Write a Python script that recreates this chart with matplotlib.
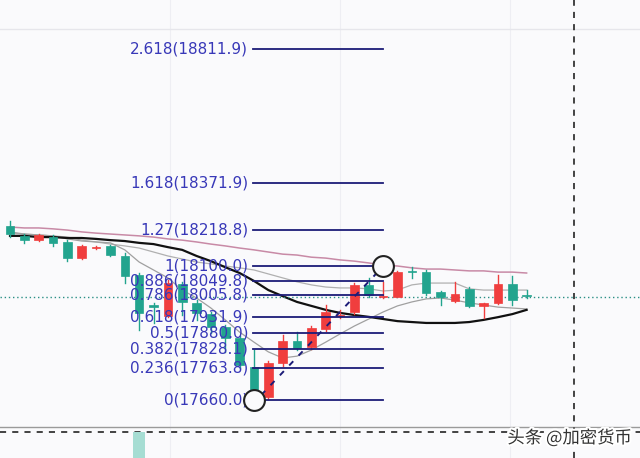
import matplotlib
matplotlib.use("Agg")
import matplotlib.pyplot as plt
import matplotlib.patheffects as pe
from matplotlib.patches import Rectangle

# ---------------- data ----------------
opens  = [18231, 18199, 18185, 18195, 18179, 18126, 18160, 18166, 18133, 18071,
          17972, 17936, 18041, 17979, 17942, 17900, 17864, 17768, 17670, 17782,
          17854, 17834, 17893, 17936, 17949, 18038, 17998, 17998, 18084, 18080,
          18015, 17985, 18025, 17969, 17979, 18041, 18005]
highs  = [18248, 18205, 18205, 18202, 18185, 18169, 18166, 18169, 18143, 18077,
          17979, 18054, 18048, 17988, 17949, 17906, 17870, 17824, 17788, 17874,
          17883, 17903, 17972, 17956, 18044, 18061, 18047, 18084, 18097, 18087,
          18018, 18048, 18031, 17980, 18071, 18067, 18021]
lows   = [18195, 18176, 18182, 18166, 18117, 18123, 18156, 18133, 18044, 17890,
          17913, 17933, 17939, 17923, 17880, 17818, 17765, 17660, 17663, 17772,
          17824, 17828, 17887, 17929, 17942, 17998, 17995, 17998, 18061, 18005,
          17972, 17982, 17965, 17929, 17975, 17972, 17995]
closes = [18205, 18185, 18202, 18176, 18126, 18166, 18163, 18136, 18067, 17946,
          17965, 18044, 17982, 17946, 17900, 17864, 17775, 17693, 17782, 17854,
          17831, 17896, 17949, 17938, 18038, 18005, 18002, 18080, 18080, 18011,
          17998, 18008, 17969, 17979, 18041, 17988, 18002]

ma_pink  = [18228, 18225, 18225, 18222, 18218, 18212, 18208, 18205, 18202, 18199,
            18195, 18189, 18185, 18179, 18172, 18166, 18159, 18153, 18146, 18139,
            18136, 18129, 18126, 18120, 18116, 18110, 18103, 18100, 18094, 18090,
            18090, 18087, 18084, 18084, 18080, 18080, 18077]
ma_black = [18199, 18199, 18195, 18195, 18192, 18192, 18189, 18185, 18182, 18176,
            18172, 18162, 18153, 18133, 18116, 18096, 18077, 18051, 18021, 18001,
            17982, 17969, 17956, 17946, 17939, 17933, 17926, 17919, 17916, 17913,
            17913, 17913, 17916, 17923, 17932, 17942, 17956]
ma_gray1 = [18208, 18205, 18202, 18199, 18195, 18185, 18179, 18172, 18166, 18159,
            18146, 18133, 18123, 18113, 18107, 18100, 18094, 18087, 18074, 18061,
            18048, 18038, 18031, 18028, 18028, 18025, 18018, 18021, 18038, 18044,
            18044, 18044, 18025, 18021, 18021, 18021, 18021]
ma_gray2 = [18212, 18205, 18202, 18199, 18189, 18182, 18179, 18176, 18153, 18113,
            18087, 18061, 18021, 17995, 17962, 17923, 17883, 17850, 17818, 17798,
            17804, 17824, 17850, 17877, 17903, 17926, 17949, 17969, 17982, 17992,
            17995, 17988, 17979, 17972, 17965, 17962, 17959]

fib_labels = ["0(17660.0)", "0.236(17763.8)", "0.382(17828.1)", "0.5(17880.0)",
              "0.618(17931.9)", "0.786(18005.8)", "0.886(18049.8)", "1(18100.0)",
              "1.27(18218.8)", "1.618(18371.9)", "2.618(18811.9)"]
fib_prices = [17660.0, 17763.8, 17828.1, 17880.0, 17931.9, 18005.8, 18049.8,
              18100.0, 18218.8, 18371.9, 18811.9]
fib_start, fib_end = 17, 26          # anchor candles (low, high)

trend_x = [17.5, 25.5]
trend_y = [17676, 18074]

last_price = 17998.3
cross_x = 39.3

vol_idx = [9]
vol_val = [26]

# ---------------- style ----------------
BG = "#fafafc"
UP = "#f03e3e"
DN = "#22a48e"
FIBC = "#1c1c78"
LABC = "#3838b8"

fig = plt.figure(figsize=(6.4, 4.58), dpi=100, facecolor=BG)
ax = fig.add_axes([0, 0, 1, 1])
ax.set_facecolor(BG)
ax.set_xlim(-0.697, 43.9)
ax.set_ylim(17469.5, 18973.6)
ax.axis("off")

# faint grid
for gx in [11.15, 23.0, 34.85]:
    ax.axvline(gx, color="#eeeef3", lw=0.8, zorder=0)
ax.axhline(18878, color="#e6e6eb", lw=1.0, zorder=0)

# moving averages
xs = list(range(len(closes)))
ax.plot(xs, ma_pink, color="#c88aa6", lw=1.1, zorder=2)
ax.plot(xs, ma_gray1, color="#b0b0b0", lw=0.9, zorder=2)
ax.plot(xs, ma_gray2, color="#a0a0a0", lw=0.9, zorder=2)
ax.plot(xs, ma_black, color="#111111", lw=1.6, zorder=2)

# candles
w = 0.6
for i, (o, h, l, c) in enumerate(zip(opens, highs, lows, closes)):
    col = UP if c >= o else DN
    ax.plot([i, i], [l, h], color=col, lw=1.0, zorder=3)
    bot = min(o, c)
    ht = max(abs(c - o), 3.3)
    ax.add_patch(Rectangle((i - w / 2, bot), w, ht, facecolor=col,
                           edgecolor=col, lw=0.5, zorder=4))

# last price dotted line
ax.axhline(last_price, color="#2a8f85", lw=1.0, ls=(0, (1, 2)), zorder=3)

# fib levels
for lab, p in zip(fib_labels, fib_prices):
    ax.plot([fib_start - 0.07, fib_end], [p, p], color=FIBC, lw=1.3, zorder=5)
    ax.text(fib_start - 0.41, p, lab, ha="right", va="center", color=LABC,
            fontsize=11, family="DejaVu Sans", zorder=7)

# trend dashed line
ax.plot(trend_x, trend_y, color=FIBC, lw=1.4, ls=(0, (3, 4)), zorder=6)

# anchor circles
ax.plot([fib_start, fib_end], [fib_prices[0], fib_prices[7]], ls="none",
        marker="o", ms=15, mfc=BG, mec="#222222", mew=1.5, zorder=8)

# pane separator + crosshair
ax.axhline(17571.3, color="#9a9a9a", lw=1.0, zorder=5)
ax.axhline(17554.0, color="#111111", lw=1.1, ls=(0, (4, 4)), zorder=9)
ax.axvline(cross_x, color="#111111", lw=1.1, ls=(0, (4, 4)), zorder=9)

# volume pane
ax2 = fig.add_axes([0, 0, 1, 31 / 458])
ax2.set_xlim(ax.get_xlim())
ax2.set_ylim(0, 31)
ax2.axis("off")
ax2.patch.set_alpha(0)
ax2.bar(vol_idx, vol_val, width=0.85, color="#a6ddd3", zorder=1)

# watermark
fig.text(632 / 640, 1 - 438 / 458, "头条 @加密货币", ha="right", va="center",
         fontsize=12.5, color="#333333",
         family=["Noto Sans CJK SC", "DejaVu Sans"],
         path_effects=[pe.withStroke(linewidth=3, foreground="white")],
         zorder=20)

fig.savefig("out.png", dpi=100, facecolor=BG)
